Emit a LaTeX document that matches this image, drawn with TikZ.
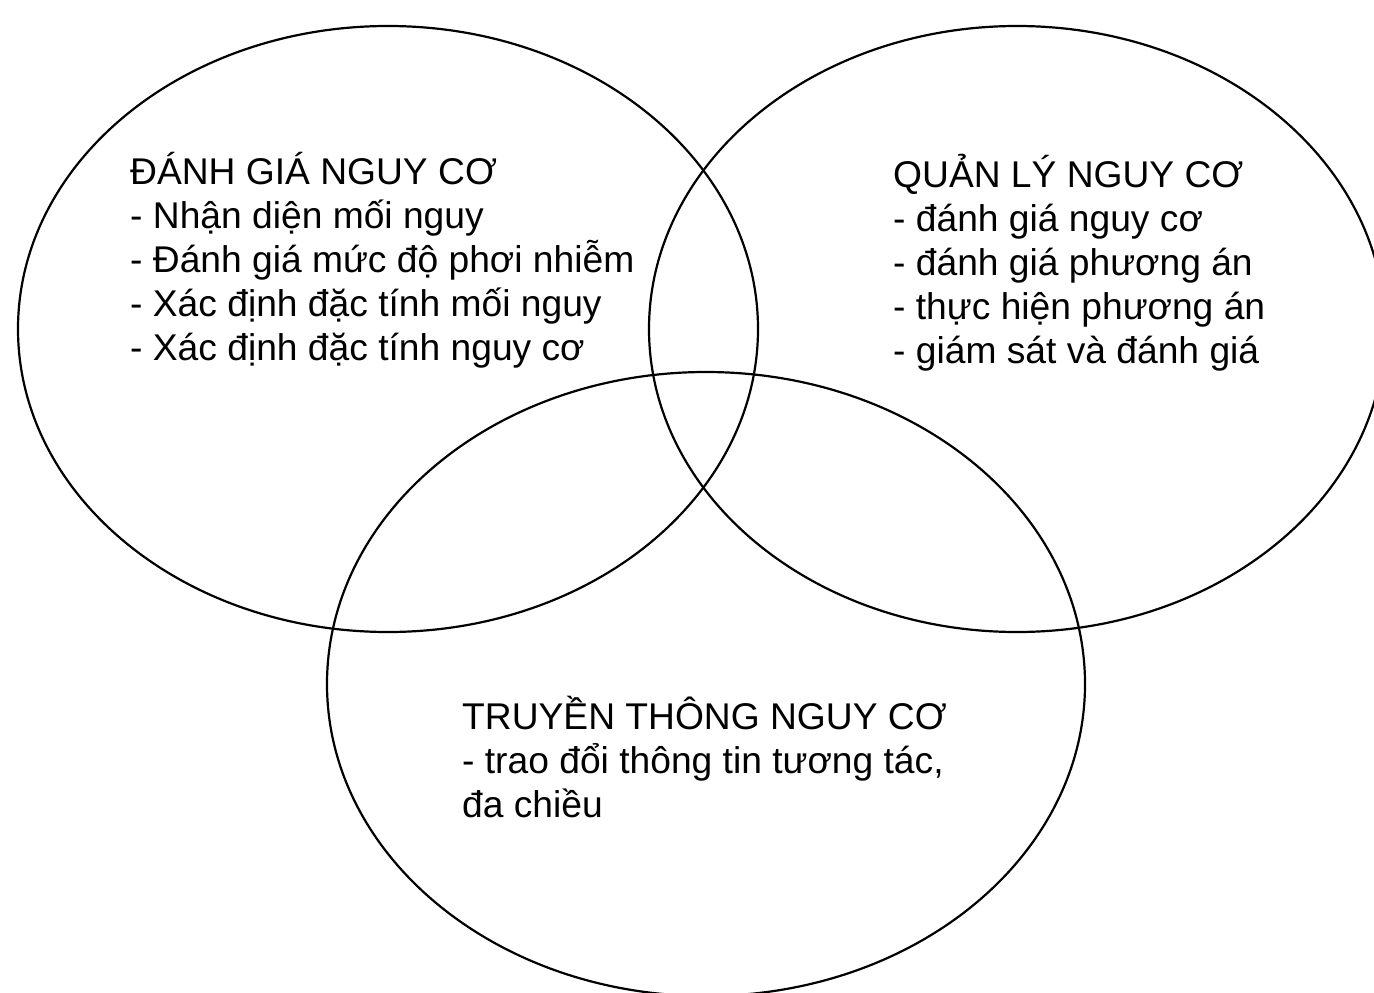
\documentclass[tikz,border=0pt]{standalone}
\usepackage{fontspec}
\setmainfont{Liberation Sans}
\usetikzlibrary{positioning}

\begin{document}
\begin{tikzpicture}[
  x=1pt, y=-1pt,
  venn/.style = {draw, line width=2.2pt},
  label/.style = {anchor=north west, inner sep=0pt, align=left, font=\fontsize{37.2}{44}\selectfont}
  ]

\useasboundingbox (0,0) rectangle (1374,993);

\draw[venn] (388,329) ellipse (370 and 303);
\draw[venn] (1017,329) ellipse (368 and 303);
\draw[venn] (706,684) ellipse (379 and 312);

\node[label] (assess) at (130,152) {ĐÁNH GIÁ NGUY CƠ\\- Nhận diện mối nguy\\- Đánh giá mức độ phơi nhiễm\\- Xác định đặc tính mối nguy\\- Xác định đặc tính nguy cơ};
\node[label] (manage) at (893,154) {QUẢN LÝ NGUY CƠ\\- đánh giá nguy cơ\\- đánh giá phương án\\- thực hiện phương án\\- giám sát và đánh giá};
\node[label] (comm) at (462,696) {TRUYỀN THÔNG NGUY CƠ\\- trao đổi thông tin tương tác,\\đa chiều};

\end{tikzpicture}
\end{document}
